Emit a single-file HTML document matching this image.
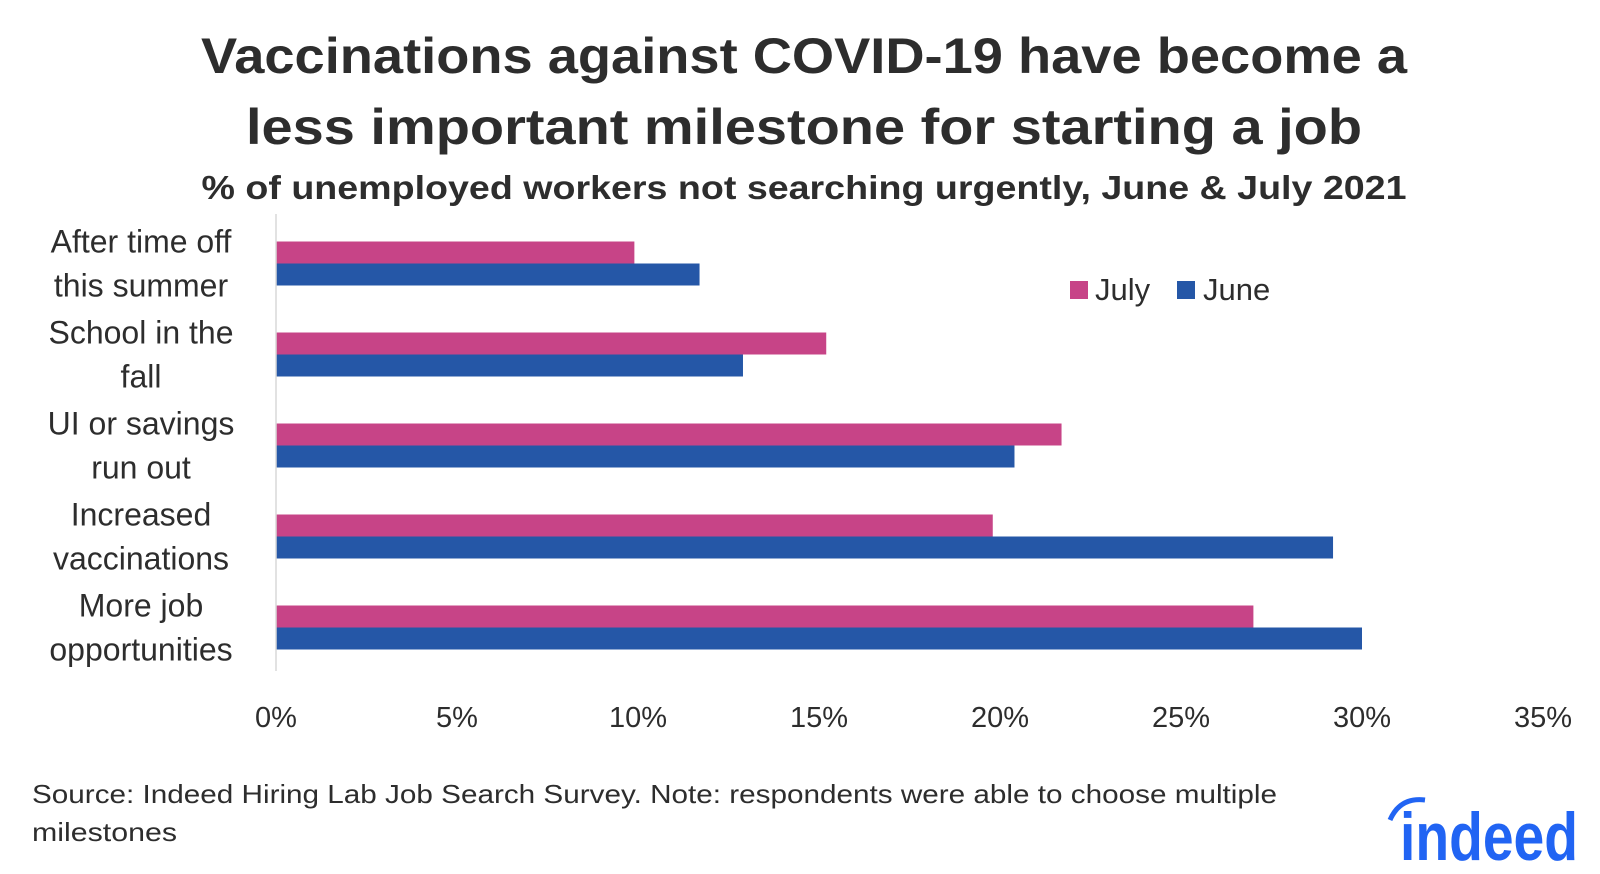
<!DOCTYPE html>
<html><head><meta charset="utf-8"><style>
html,body{margin:0;padding:0;background:#fff;}
svg{display:block;font-family:"Liberation Sans","DejaVu Sans",sans-serif;}
</style></head><body>
<svg id="chart" width="1600" height="874" viewBox="0 0 1600 874">
<text x="804" y="73" text-anchor="middle" font-size="50" font-weight="bold" fill="#2d2d2d" textLength="1206" lengthAdjust="spacingAndGlyphs">Vaccinations against COVID-19 have become a</text>
<text x="804" y="144" text-anchor="middle" font-size="50" font-weight="bold" fill="#2d2d2d" textLength="1116" lengthAdjust="spacingAndGlyphs">less important milestone for starting a job</text>
<text x="804" y="199" text-anchor="middle" font-size="33" font-weight="bold" fill="#2d2d2d" textLength="1205" lengthAdjust="spacingAndGlyphs">% of unemployed workers not searching urgently, June &amp; July 2021</text>
<g id="plot"></g>
<g>
<rect x="1070" y="281" width="18" height="18" fill="#c74487"/>
<text x="1095" y="300" font-size="31" fill="#2d2d2d">July</text>
<rect x="1177" y="281" width="18" height="18" fill="#2557a7"/>
<text x="1203" y="300" font-size="31" fill="#2d2d2d">June</text>
</g>
<text x="32" y="803" font-size="26" fill="#2d2d2d" textLength="1245" lengthAdjust="spacingAndGlyphs">Source: Indeed Hiring Lab Job Search Survey. Note: respondents were able to choose multiple</text>
<text x="32" y="841" font-size="26" fill="#2d2d2d" textLength="145" lengthAdjust="spacingAndGlyphs">milestones</text>
<g>
<path d="M1390 820 Q1400 797 1425 800" stroke="#2164f3" stroke-width="5" fill="none"/>
<text x="1400" y="860" font-size="68" font-weight="bold" fill="#2164f3" textLength="178" lengthAdjust="spacingAndGlyphs">indeed</text>
</g>
</svg>
<script>
const categories=["After time off|this summer","School in the|fall","UI or savings|run out","Increased|vaccinations","More job|opportunities"];
const julyValues=[9.9,15.2,21.7,19.8,27.0];
const juneValues=[11.7,12.9,20.4,29.2,30.0];
const tickValues=[0,5,10,15,20,25,30,35];
const tickLabels=["0%","5%","10%","15%","20%","25%","30%","35%"];
const NS="http://www.w3.org/2000/svg";
const plotX0=276,pxPer=36.2,plotTop=218,band=91,barH=22;
function xs(v){return plotX0+v*pxPer;}
function ys(i){return plotTop+i*band;}
const plotG=document.getElementById('plot');
function mk(t,a){const e=document.createElementNS(NS,t);for(const k in a)e.setAttribute(k,a[k]);plotG.appendChild(e);return e;}
categories.forEach((c,i)=>{
  const cy=ys(i)+band/2;
  const r1=mk('rect',{x:plotX0,y:cy-barH,width:xs(julyValues[i])-plotX0,height:barH,fill:'#c74487'});
  
  
  const r2=mk('rect',{x:plotX0,y:cy,width:xs(juneValues[i])-plotX0,height:barH,fill:'#2557a7'});
  
  
  const lines=c.split('|');
  lines.forEach((l,j)=>{
    const t=mk('text',{x:141,y:cy-11+j*44,'text-anchor':'middle','font-size':32,fill:'#2d2d2d'});
    t.textContent=l;
    
    
  });
});
const ax=mk('line',{x1:plotX0,x2:plotX0,y1:plotTop-4,y2:plotTop+band*5-2,stroke:'#d9d9d9','stroke-width':1.5});


tickValues.forEach((v,i)=>{
  const t=mk('text',{x:xs(v),y:727,'text-anchor':'middle','font-size':29,fill:'#2d2d2d'});
  t.textContent=tickLabels[i];
  
  
});
</script>
</body></html>
